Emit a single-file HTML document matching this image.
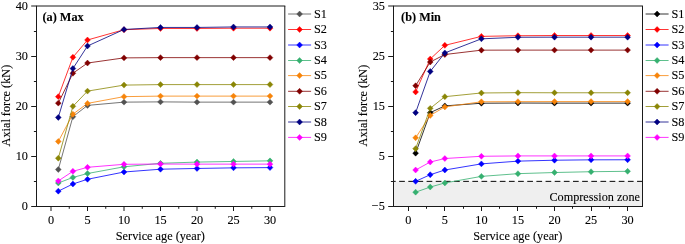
<!DOCTYPE html>
<html><head><meta charset="utf-8"><title>Axial force vs service age</title>
<style>html,body{margin:0;padding:0;background:#fff}svg{display:block;will-change:transform}</style></head><body>
<svg width="685" height="244" viewBox="0 0 685 244">
<rect width="685" height="244" fill="#fff"/>
<polyline fill="none" stroke="#525252" stroke-width="0.8" points="58.30,169.51 72.90,116.68 87.50,105.40 124.00,102.14 160.50,101.89 197.00,102.14 233.50,102.14 270.00,102.14"/>
<path fill="#525252" stroke="#525252" stroke-width="0.45" d="M58.30 166.53l2.9 2.98l-2.9 2.98l-2.9 -2.98zM72.90 113.70l2.9 2.98l-2.9 2.98l-2.9 -2.98zM87.50 102.42l2.9 2.98l-2.9 2.98l-2.9 -2.98zM124.00 99.16l2.9 2.98l-2.9 2.98l-2.9 -2.98zM160.50 98.91l2.9 2.98l-2.9 2.98l-2.9 -2.98zM197.00 99.16l2.9 2.98l-2.9 2.98l-2.9 -2.98zM233.50 99.16l2.9 2.98l-2.9 2.98l-2.9 -2.98zM270.00 99.16l2.9 2.98l-2.9 2.98l-2.9 -2.98z"/>
<polyline fill="none" stroke="#ff0000" stroke-width="0.8" points="58.30,96.63 72.90,57.28 87.50,39.98 124.00,29.71 160.50,28.46 197.00,28.46 233.50,28.21 270.00,28.21"/>
<path fill="#ff0000" stroke="#ff0000" stroke-width="0.45" d="M58.30 93.65l2.9 2.98l-2.9 2.98l-2.9 -2.98zM72.90 54.30l2.9 2.98l-2.9 2.98l-2.9 -2.98zM87.50 37.00l2.9 2.98l-2.9 2.98l-2.9 -2.98zM124.00 26.73l2.9 2.98l-2.9 2.98l-2.9 -2.98zM160.50 25.48l2.9 2.98l-2.9 2.98l-2.9 -2.98zM197.00 25.48l2.9 2.98l-2.9 2.98l-2.9 -2.98zM233.50 25.23l2.9 2.98l-2.9 2.98l-2.9 -2.98zM270.00 25.23l2.9 2.98l-2.9 2.98l-2.9 -2.98z"/>
<polyline fill="none" stroke="#0000ff" stroke-width="0.8" points="58.30,191.16 72.90,183.99 87.50,179.28 124.00,172.01 160.50,169.21 197.00,168.46 233.50,167.85 270.00,167.60"/>
<path fill="#0000ff" stroke="#0000ff" stroke-width="0.45" d="M58.30 188.18l2.9 2.98l-2.9 2.98l-2.9 -2.98zM72.90 181.01l2.9 2.98l-2.9 2.98l-2.9 -2.98zM87.50 176.30l2.9 2.98l-2.9 2.98l-2.9 -2.98zM124.00 169.03l2.9 2.98l-2.9 2.98l-2.9 -2.98zM160.50 166.23l2.9 2.98l-2.9 2.98l-2.9 -2.98zM197.00 165.48l2.9 2.98l-2.9 2.98l-2.9 -2.98zM233.50 164.87l2.9 2.98l-2.9 2.98l-2.9 -2.98zM270.00 164.62l2.9 2.98l-2.9 2.98l-2.9 -2.98z"/>
<polyline fill="none" stroke="#36b070" stroke-width="0.8" points="58.30,182.99 72.90,177.43 87.50,173.52 124.00,166.80 160.50,163.29 197.00,162.09 233.50,161.44 270.00,160.84"/>
<path fill="#36b070" stroke="#36b070" stroke-width="0.45" d="M58.30 180.01l2.9 2.98l-2.9 2.98l-2.9 -2.98zM72.90 174.45l2.9 2.98l-2.9 2.98l-2.9 -2.98zM87.50 170.54l2.9 2.98l-2.9 2.98l-2.9 -2.98zM124.00 163.82l2.9 2.98l-2.9 2.98l-2.9 -2.98zM160.50 160.31l2.9 2.98l-2.9 2.98l-2.9 -2.98zM197.00 159.11l2.9 2.98l-2.9 2.98l-2.9 -2.98zM233.50 158.46l2.9 2.98l-2.9 2.98l-2.9 -2.98zM270.00 157.86l2.9 2.98l-2.9 2.98l-2.9 -2.98z"/>
<polyline fill="none" stroke="#f7840a" stroke-width="0.8" points="58.30,141.44 72.90,114.17 87.50,103.39 124.00,96.63 160.50,96.12 197.00,96.12 233.50,96.12 270.00,96.12"/>
<path fill="#f7840a" stroke="#f7840a" stroke-width="0.45" d="M58.30 138.46l2.9 2.98l-2.9 2.98l-2.9 -2.98zM72.90 111.19l2.9 2.98l-2.9 2.98l-2.9 -2.98zM87.50 100.41l2.9 2.98l-2.9 2.98l-2.9 -2.98zM124.00 93.65l2.9 2.98l-2.9 2.98l-2.9 -2.98zM160.50 93.14l2.9 2.98l-2.9 2.98l-2.9 -2.98zM197.00 93.14l2.9 2.98l-2.9 2.98l-2.9 -2.98zM233.50 93.14l2.9 2.98l-2.9 2.98l-2.9 -2.98zM270.00 93.14l2.9 2.98l-2.9 2.98l-2.9 -2.98z"/>
<polyline fill="none" stroke="#800000" stroke-width="0.8" points="58.30,103.14 72.90,73.27 87.50,63.04 124.00,57.88 160.50,57.63 197.00,57.63 233.50,57.63 270.00,57.63"/>
<path fill="#800000" stroke="#800000" stroke-width="0.45" d="M58.30 100.16l2.9 2.98l-2.9 2.98l-2.9 -2.98zM72.90 70.29l2.9 2.98l-2.9 2.98l-2.9 -2.98zM87.50 60.06l2.9 2.98l-2.9 2.98l-2.9 -2.98zM124.00 54.90l2.9 2.98l-2.9 2.98l-2.9 -2.98zM160.50 54.65l2.9 2.98l-2.9 2.98l-2.9 -2.98zM197.00 54.65l2.9 2.98l-2.9 2.98l-2.9 -2.98zM233.50 54.65l2.9 2.98l-2.9 2.98l-2.9 -2.98zM270.00 54.65l2.9 2.98l-2.9 2.98l-2.9 -2.98z"/>
<polyline fill="none" stroke="#8a8606" stroke-width="0.8" points="58.30,158.23 72.90,106.35 87.50,91.11 124.00,85.10 160.50,84.60 197.00,84.60 233.50,84.60 270.00,84.60"/>
<path fill="#8a8606" stroke="#8a8606" stroke-width="0.45" d="M58.30 155.25l2.9 2.98l-2.9 2.98l-2.9 -2.98zM72.90 103.37l2.9 2.98l-2.9 2.98l-2.9 -2.98zM87.50 88.13l2.9 2.98l-2.9 2.98l-2.9 -2.98zM124.00 82.12l2.9 2.98l-2.9 2.98l-2.9 -2.98zM160.50 81.62l2.9 2.98l-2.9 2.98l-2.9 -2.98zM197.00 81.62l2.9 2.98l-2.9 2.98l-2.9 -2.98zM233.50 81.62l2.9 2.98l-2.9 2.98l-2.9 -2.98zM270.00 81.62l2.9 2.98l-2.9 2.98l-2.9 -2.98z"/>
<polyline fill="none" stroke="#000080" stroke-width="0.8" points="58.30,117.43 72.90,68.56 87.50,46.00 124.00,29.46 160.50,27.45 197.00,27.45 233.50,26.95 270.00,26.95"/>
<path fill="#000080" stroke="#000080" stroke-width="0.45" d="M58.30 114.45l2.9 2.98l-2.9 2.98l-2.9 -2.98zM72.90 65.58l2.9 2.98l-2.9 2.98l-2.9 -2.98zM87.50 43.02l2.9 2.98l-2.9 2.98l-2.9 -2.98zM124.00 26.48l2.9 2.98l-2.9 2.98l-2.9 -2.98zM160.50 24.47l2.9 2.98l-2.9 2.98l-2.9 -2.98zM197.00 24.47l2.9 2.98l-2.9 2.98l-2.9 -2.98zM233.50 23.97l2.9 2.98l-2.9 2.98l-2.9 -2.98zM270.00 23.97l2.9 2.98l-2.9 2.98l-2.9 -2.98z"/>
<polyline fill="none" stroke="#ff00ff" stroke-width="0.8" points="58.30,180.94 72.90,171.31 87.50,167.30 124.00,164.30 160.50,164.04 197.00,164.14 233.50,164.14 270.00,164.14"/>
<path fill="#ff00ff" stroke="#ff00ff" stroke-width="0.45" d="M58.30 177.96l2.9 2.98l-2.9 2.98l-2.9 -2.98zM72.90 168.33l2.9 2.98l-2.9 2.98l-2.9 -2.98zM87.50 164.32l2.9 2.98l-2.9 2.98l-2.9 -2.98zM124.00 161.32l2.9 2.98l-2.9 2.98l-2.9 -2.98zM160.50 161.06l2.9 2.98l-2.9 2.98l-2.9 -2.98zM197.00 161.16l2.9 2.98l-2.9 2.98l-2.9 -2.98zM233.50 161.16l2.9 2.98l-2.9 2.98l-2.9 -2.98zM270.00 161.16l2.9 2.98l-2.9 2.98l-2.9 -2.98z"/>
<path d="M36.00 6.00H285.30" fill="none" stroke="#1a1a1a" stroke-width="1"/>
<path d="M284.80 6.00V207.00" fill="none" stroke="#1a1a1a" stroke-width="1"/>
<path d="M36.50 6.00V206.50M36.00 206.50H284.80" fill="none" stroke="#1a1a1a" stroke-width="1"/>
<line x1="51.00" y1="206.50" x2="51.00" y2="211.00" stroke="#1a1a1a" stroke-width="1"/>
<text x="51.00" y="223.7" text-anchor="middle" font-family="Liberation Serif, serif" stroke="#000" stroke-width="0.1" font-size="12.25px" fill="#000">0</text>
<line x1="87.50" y1="206.50" x2="87.50" y2="211.00" stroke="#1a1a1a" stroke-width="1"/>
<text x="87.50" y="223.7" text-anchor="middle" font-family="Liberation Serif, serif" stroke="#000" stroke-width="0.1" font-size="12.25px" fill="#000">5</text>
<line x1="124.00" y1="206.50" x2="124.00" y2="211.00" stroke="#1a1a1a" stroke-width="1"/>
<text x="124.00" y="223.7" text-anchor="middle" font-family="Liberation Serif, serif" stroke="#000" stroke-width="0.1" font-size="12.25px" fill="#000">10</text>
<line x1="160.50" y1="206.50" x2="160.50" y2="211.00" stroke="#1a1a1a" stroke-width="1"/>
<text x="160.50" y="223.7" text-anchor="middle" font-family="Liberation Serif, serif" stroke="#000" stroke-width="0.1" font-size="12.25px" fill="#000">15</text>
<line x1="197.00" y1="206.50" x2="197.00" y2="211.00" stroke="#1a1a1a" stroke-width="1"/>
<text x="197.00" y="223.7" text-anchor="middle" font-family="Liberation Serif, serif" stroke="#000" stroke-width="0.1" font-size="12.25px" fill="#000">20</text>
<line x1="233.50" y1="206.50" x2="233.50" y2="211.00" stroke="#1a1a1a" stroke-width="1"/>
<text x="233.50" y="223.7" text-anchor="middle" font-family="Liberation Serif, serif" stroke="#000" stroke-width="0.1" font-size="12.25px" fill="#000">25</text>
<line x1="270.00" y1="206.50" x2="270.00" y2="211.00" stroke="#1a1a1a" stroke-width="1"/>
<text x="270.00" y="223.7" text-anchor="middle" font-family="Liberation Serif, serif" stroke="#000" stroke-width="0.1" font-size="12.25px" fill="#000">30</text>
<line x1="69.25" y1="206.50" x2="69.25" y2="208.80" stroke="#1a1a1a" stroke-width="1"/>
<line x1="105.75" y1="206.50" x2="105.75" y2="208.80" stroke="#1a1a1a" stroke-width="1"/>
<line x1="142.25" y1="206.50" x2="142.25" y2="208.80" stroke="#1a1a1a" stroke-width="1"/>
<line x1="178.75" y1="206.50" x2="178.75" y2="208.80" stroke="#1a1a1a" stroke-width="1"/>
<line x1="215.25" y1="206.50" x2="215.25" y2="208.80" stroke="#1a1a1a" stroke-width="1"/>
<line x1="251.75" y1="206.50" x2="251.75" y2="208.80" stroke="#1a1a1a" stroke-width="1"/>
<line x1="31.20" y1="206.50" x2="36.50" y2="206.50" stroke="#1a1a1a" stroke-width="1"/>
<text x="27.90" y="209.60" text-anchor="end" font-family="Liberation Serif, serif" stroke="#000" stroke-width="0.1" font-size="12.25px" fill="#000">0</text>
<line x1="31.20" y1="156.50" x2="36.50" y2="156.50" stroke="#1a1a1a" stroke-width="1"/>
<text x="27.90" y="159.60" text-anchor="end" font-family="Liberation Serif, serif" stroke="#000" stroke-width="0.1" font-size="12.25px" fill="#000">10</text>
<line x1="31.20" y1="106.50" x2="36.50" y2="106.50" stroke="#1a1a1a" stroke-width="1"/>
<text x="27.90" y="109.60" text-anchor="end" font-family="Liberation Serif, serif" stroke="#000" stroke-width="0.1" font-size="12.25px" fill="#000">20</text>
<line x1="31.20" y1="56.50" x2="36.50" y2="56.50" stroke="#1a1a1a" stroke-width="1"/>
<text x="27.90" y="59.60" text-anchor="end" font-family="Liberation Serif, serif" stroke="#000" stroke-width="0.1" font-size="12.25px" fill="#000">30</text>
<line x1="31.20" y1="6.00" x2="36.50" y2="6.00" stroke="#1a1a1a" stroke-width="1"/>
<text x="27.90" y="9.80" text-anchor="end" font-family="Liberation Serif, serif" stroke="#000" stroke-width="0.1" font-size="12.25px" fill="#000">40</text>
<line x1="33.90" y1="181.50" x2="36.50" y2="181.50" stroke="#1a1a1a" stroke-width="1"/>
<line x1="33.90" y1="131.50" x2="36.50" y2="131.50" stroke="#1a1a1a" stroke-width="1"/>
<line x1="33.90" y1="81.50" x2="36.50" y2="81.50" stroke="#1a1a1a" stroke-width="1"/>
<line x1="33.90" y1="31.50" x2="36.50" y2="31.50" stroke="#1a1a1a" stroke-width="1"/>
<text x="42.50" y="21" font-family="Liberation Serif, serif" stroke="#000" stroke-width="0.1" font-size="12.25px" font-weight="bold" stroke-width="0.08" fill="#000">(a) Max</text>
<text x="160.35" y="239.7" text-anchor="middle" font-family="Liberation Serif, serif" stroke="#000" stroke-width="0.1" font-size="12.25px" fill="#000">Service age (year)</text>
<text transform="translate(10.10,105.60) rotate(-90)" text-anchor="middle" font-family="Liberation Serif, serif" stroke="#000" stroke-width="0.1" font-size="12.25px" fill="#000">Axial force (kN)</text>
<line x1="288.10" y1="14.00" x2="311.10" y2="14.00" stroke="#525252" stroke-width="0.8"/>
<path fill="#525252" stroke="#525252" stroke-width="0.45" d="M299.60 11.02l2.9 2.98l-2.9 2.98l-2.9 -2.98z"/>
<text x="313.90" y="17.70" font-family="Liberation Serif, serif" stroke="#000" stroke-width="0.1" font-size="12.25px" fill="#000">S1</text>
<line x1="288.10" y1="29.50" x2="311.10" y2="29.50" stroke="#ff0000" stroke-width="0.8"/>
<path fill="#ff0000" stroke="#ff0000" stroke-width="0.45" d="M299.60 26.52l2.9 2.98l-2.9 2.98l-2.9 -2.98z"/>
<text x="313.90" y="33.20" font-family="Liberation Serif, serif" stroke="#000" stroke-width="0.1" font-size="12.25px" fill="#000">S2</text>
<line x1="288.10" y1="45.00" x2="311.10" y2="45.00" stroke="#0000ff" stroke-width="0.8"/>
<path fill="#0000ff" stroke="#0000ff" stroke-width="0.45" d="M299.60 42.02l2.9 2.98l-2.9 2.98l-2.9 -2.98z"/>
<text x="313.90" y="48.70" font-family="Liberation Serif, serif" stroke="#000" stroke-width="0.1" font-size="12.25px" fill="#000">S3</text>
<line x1="288.10" y1="60.50" x2="311.10" y2="60.50" stroke="#36b070" stroke-width="0.8"/>
<path fill="#36b070" stroke="#36b070" stroke-width="0.45" d="M299.60 57.52l2.9 2.98l-2.9 2.98l-2.9 -2.98z"/>
<text x="313.90" y="64.20" font-family="Liberation Serif, serif" stroke="#000" stroke-width="0.1" font-size="12.25px" fill="#000">S4</text>
<line x1="288.10" y1="75.60" x2="311.10" y2="75.60" stroke="#f7840a" stroke-width="0.8"/>
<path fill="#f7840a" stroke="#f7840a" stroke-width="0.45" d="M299.60 72.62l2.9 2.98l-2.9 2.98l-2.9 -2.98z"/>
<text x="313.90" y="79.30" font-family="Liberation Serif, serif" stroke="#000" stroke-width="0.1" font-size="12.25px" fill="#000">S5</text>
<line x1="288.10" y1="91.30" x2="311.10" y2="91.30" stroke="#800000" stroke-width="0.8"/>
<path fill="#800000" stroke="#800000" stroke-width="0.45" d="M299.60 88.32l2.9 2.98l-2.9 2.98l-2.9 -2.98z"/>
<text x="313.90" y="95.00" font-family="Liberation Serif, serif" stroke="#000" stroke-width="0.1" font-size="12.25px" fill="#000">S6</text>
<line x1="288.10" y1="106.50" x2="311.10" y2="106.50" stroke="#8a8606" stroke-width="0.8"/>
<path fill="#8a8606" stroke="#8a8606" stroke-width="0.45" d="M299.60 103.52l2.9 2.98l-2.9 2.98l-2.9 -2.98z"/>
<text x="313.90" y="110.20" font-family="Liberation Serif, serif" stroke="#000" stroke-width="0.1" font-size="12.25px" fill="#000">S7</text>
<line x1="288.10" y1="122.00" x2="311.10" y2="122.00" stroke="#000080" stroke-width="0.8"/>
<path fill="#000080" stroke="#000080" stroke-width="0.45" d="M299.60 119.02l2.9 2.98l-2.9 2.98l-2.9 -2.98z"/>
<text x="313.90" y="125.70" font-family="Liberation Serif, serif" stroke="#000" stroke-width="0.1" font-size="12.25px" fill="#000">S8</text>
<line x1="288.10" y1="137.40" x2="311.10" y2="137.40" stroke="#ff00ff" stroke-width="0.8"/>
<path fill="#ff00ff" stroke="#ff00ff" stroke-width="0.45" d="M299.60 134.42l2.9 2.98l-2.9 2.98l-2.9 -2.98z"/>
<text x="313.90" y="141.10" font-family="Liberation Serif, serif" stroke="#000" stroke-width="0.1" font-size="12.25px" fill="#000">S9</text>
<rect x="393.50" y="181.35" width="249.00" height="25.15" fill="#efefef"/>
<line x1="393.50" y1="181.35" x2="642.50" y2="181.35" stroke="#000" stroke-width="1" stroke-dasharray="5.7 3.45" stroke-dashoffset="3.5"/>
<text x="640.0" y="200.5" text-anchor="end" font-family="Liberation Serif, serif" stroke="#000" stroke-width="0.1" font-size="12.22px" fill="#000">Compression zone</text>
<polyline fill="none" stroke="#000000" stroke-width="0.8" points="415.61,153.17 430.23,112.67 444.85,105.90 481.40,103.24 517.95,103.04 554.50,103.14 591.05,103.14 627.60,103.14"/>
<path fill="#000000" stroke="#000000" stroke-width="0.45" d="M415.61 150.19l2.9 2.98l-2.9 2.98l-2.9 -2.98zM430.23 109.69l2.9 2.98l-2.9 2.98l-2.9 -2.98zM444.85 102.92l2.9 2.98l-2.9 2.98l-2.9 -2.98zM481.40 100.26l2.9 2.98l-2.9 2.98l-2.9 -2.98zM517.95 100.06l2.9 2.98l-2.9 2.98l-2.9 -2.98zM554.50 100.16l2.9 2.98l-2.9 2.98l-2.9 -2.98zM591.05 100.16l2.9 2.98l-2.9 2.98l-2.9 -2.98zM627.60 100.16l2.9 2.98l-2.9 2.98l-2.9 -2.98z"/>
<polyline fill="none" stroke="#ff0000" stroke-width="0.8" points="415.61,91.96 430.23,59.03 444.85,45.35 481.40,36.38 517.95,35.72 554.50,35.52 591.05,35.52 627.60,35.52"/>
<path fill="#ff0000" stroke="#ff0000" stroke-width="0.45" d="M415.61 88.98l2.9 2.98l-2.9 2.98l-2.9 -2.98zM430.23 56.05l2.9 2.98l-2.9 2.98l-2.9 -2.98zM444.85 42.37l2.9 2.98l-2.9 2.98l-2.9 -2.98zM481.40 33.40l2.9 2.98l-2.9 2.98l-2.9 -2.98zM517.95 32.74l2.9 2.98l-2.9 2.98l-2.9 -2.98zM554.50 32.54l2.9 2.98l-2.9 2.98l-2.9 -2.98zM591.05 32.54l2.9 2.98l-2.9 2.98l-2.9 -2.98zM627.60 32.54l2.9 2.98l-2.9 2.98l-2.9 -2.98z"/>
<polyline fill="none" stroke="#0000ff" stroke-width="0.8" points="415.61,181.34 430.23,174.72 444.85,170.01 481.40,163.89 517.95,161.14 554.50,160.23 591.05,159.83 627.60,159.78"/>
<path fill="#0000ff" stroke="#0000ff" stroke-width="0.45" d="M415.61 178.36l2.9 2.98l-2.9 2.98l-2.9 -2.98zM430.23 171.74l2.9 2.98l-2.9 2.98l-2.9 -2.98zM444.85 167.03l2.9 2.98l-2.9 2.98l-2.9 -2.98zM481.40 160.91l2.9 2.98l-2.9 2.98l-2.9 -2.98zM517.95 158.16l2.9 2.98l-2.9 2.98l-2.9 -2.98zM554.50 157.25l2.9 2.98l-2.9 2.98l-2.9 -2.98zM591.05 156.85l2.9 2.98l-2.9 2.98l-2.9 -2.98zM627.60 156.80l2.9 2.98l-2.9 2.98l-2.9 -2.98z"/>
<polyline fill="none" stroke="#36b070" stroke-width="0.8" points="415.61,192.16 430.23,187.05 444.85,182.94 481.40,176.38 517.95,173.67 554.50,172.52 591.05,171.71 627.60,171.31"/>
<path fill="#36b070" stroke="#36b070" stroke-width="0.45" d="M415.61 189.18l2.9 2.98l-2.9 2.98l-2.9 -2.98zM430.23 184.07l2.9 2.98l-2.9 2.98l-2.9 -2.98zM444.85 179.96l2.9 2.98l-2.9 2.98l-2.9 -2.98zM481.40 173.40l2.9 2.98l-2.9 2.98l-2.9 -2.98zM517.95 170.69l2.9 2.98l-2.9 2.98l-2.9 -2.98zM554.50 169.54l2.9 2.98l-2.9 2.98l-2.9 -2.98zM591.05 168.73l2.9 2.98l-2.9 2.98l-2.9 -2.98zM627.60 168.33l2.9 2.98l-2.9 2.98l-2.9 -2.98z"/>
<polyline fill="none" stroke="#f7840a" stroke-width="0.8" points="415.61,137.83 430.23,115.42 444.85,106.90 481.40,101.79 517.95,101.64 554.50,101.59 591.05,101.59 627.60,101.59"/>
<path fill="#f7840a" stroke="#f7840a" stroke-width="0.45" d="M415.61 134.85l2.9 2.98l-2.9 2.98l-2.9 -2.98zM430.23 112.44l2.9 2.98l-2.9 2.98l-2.9 -2.98zM444.85 103.92l2.9 2.98l-2.9 2.98l-2.9 -2.98zM481.40 98.81l2.9 2.98l-2.9 2.98l-2.9 -2.98zM517.95 98.66l2.9 2.98l-2.9 2.98l-2.9 -2.98zM554.50 98.61l2.9 2.98l-2.9 2.98l-2.9 -2.98zM591.05 98.61l2.9 2.98l-2.9 2.98l-2.9 -2.98zM627.60 98.61l2.9 2.98l-2.9 2.98l-2.9 -2.98z"/>
<polyline fill="none" stroke="#800000" stroke-width="0.8" points="415.61,85.75 430.23,62.04 444.85,54.52 481.40,50.16 517.95,50.11 554.50,50.11 591.05,50.11 627.60,50.11"/>
<path fill="#800000" stroke="#800000" stroke-width="0.45" d="M415.61 82.77l2.9 2.98l-2.9 2.98l-2.9 -2.98zM430.23 59.06l2.9 2.98l-2.9 2.98l-2.9 -2.98zM444.85 51.54l2.9 2.98l-2.9 2.98l-2.9 -2.98zM481.40 47.18l2.9 2.98l-2.9 2.98l-2.9 -2.98zM517.95 47.13l2.9 2.98l-2.9 2.98l-2.9 -2.98zM554.50 47.13l2.9 2.98l-2.9 2.98l-2.9 -2.98zM591.05 47.13l2.9 2.98l-2.9 2.98l-2.9 -2.98zM627.60 47.13l2.9 2.98l-2.9 2.98l-2.9 -2.98z"/>
<polyline fill="none" stroke="#8a8606" stroke-width="0.8" points="415.61,148.66 430.23,108.36 444.85,96.68 481.40,92.97 517.95,92.67 554.50,92.77 591.05,92.77 627.60,92.77"/>
<path fill="#8a8606" stroke="#8a8606" stroke-width="0.45" d="M415.61 145.68l2.9 2.98l-2.9 2.98l-2.9 -2.98zM430.23 105.38l2.9 2.98l-2.9 2.98l-2.9 -2.98zM444.85 93.70l2.9 2.98l-2.9 2.98l-2.9 -2.98zM481.40 89.99l2.9 2.98l-2.9 2.98l-2.9 -2.98zM517.95 89.69l2.9 2.98l-2.9 2.98l-2.9 -2.98zM554.50 89.79l2.9 2.98l-2.9 2.98l-2.9 -2.98zM591.05 89.79l2.9 2.98l-2.9 2.98l-2.9 -2.98zM627.60 89.79l2.9 2.98l-2.9 2.98l-2.9 -2.98z"/>
<polyline fill="none" stroke="#000080" stroke-width="0.8" points="415.61,112.67 430.23,71.46 444.85,52.92 481.40,38.83 517.95,37.28 554.50,37.18 591.05,37.18 627.60,37.18"/>
<path fill="#000080" stroke="#000080" stroke-width="0.45" d="M415.61 109.69l2.9 2.98l-2.9 2.98l-2.9 -2.98zM430.23 68.48l2.9 2.98l-2.9 2.98l-2.9 -2.98zM444.85 49.94l2.9 2.98l-2.9 2.98l-2.9 -2.98zM481.40 35.85l2.9 2.98l-2.9 2.98l-2.9 -2.98zM517.95 34.30l2.9 2.98l-2.9 2.98l-2.9 -2.98zM554.50 34.20l2.9 2.98l-2.9 2.98l-2.9 -2.98zM591.05 34.20l2.9 2.98l-2.9 2.98l-2.9 -2.98zM627.60 34.20l2.9 2.98l-2.9 2.98l-2.9 -2.98z"/>
<polyline fill="none" stroke="#ff00ff" stroke-width="0.8" points="415.61,170.01 430.23,162.04 444.85,158.53 481.40,156.28 517.95,155.92 554.50,155.92 591.05,155.92 627.60,155.92"/>
<path fill="#ff00ff" stroke="#ff00ff" stroke-width="0.45" d="M415.61 167.03l2.9 2.98l-2.9 2.98l-2.9 -2.98zM430.23 159.06l2.9 2.98l-2.9 2.98l-2.9 -2.98zM444.85 155.55l2.9 2.98l-2.9 2.98l-2.9 -2.98zM481.40 153.30l2.9 2.98l-2.9 2.98l-2.9 -2.98zM517.95 152.94l2.9 2.98l-2.9 2.98l-2.9 -2.98zM554.50 152.94l2.9 2.98l-2.9 2.98l-2.9 -2.98zM591.05 152.94l2.9 2.98l-2.9 2.98l-2.9 -2.98zM627.60 152.94l2.9 2.98l-2.9 2.98l-2.9 -2.98z"/>
<path d="M393.00 6.00H643.00" fill="none" stroke="#1a1a1a" stroke-width="1"/>
<path d="M642.50 6.00V207.00" fill="none" stroke="#1a1a1a" stroke-width="1"/>
<path d="M393.50 6.00V206.50M393.00 206.50H642.50" fill="none" stroke="#1a1a1a" stroke-width="1"/>
<line x1="408.50" y1="206.50" x2="408.50" y2="211.00" stroke="#1a1a1a" stroke-width="1"/>
<text x="408.30" y="223.7" text-anchor="middle" font-family="Liberation Serif, serif" stroke="#000" stroke-width="0.1" font-size="12.25px" fill="#000">0</text>
<line x1="444.50" y1="206.50" x2="444.50" y2="211.00" stroke="#1a1a1a" stroke-width="1"/>
<text x="444.85" y="223.7" text-anchor="middle" font-family="Liberation Serif, serif" stroke="#000" stroke-width="0.1" font-size="12.25px" fill="#000">5</text>
<line x1="481.50" y1="206.50" x2="481.50" y2="211.00" stroke="#1a1a1a" stroke-width="1"/>
<text x="481.40" y="223.7" text-anchor="middle" font-family="Liberation Serif, serif" stroke="#000" stroke-width="0.1" font-size="12.25px" fill="#000">10</text>
<line x1="517.50" y1="206.50" x2="517.50" y2="211.00" stroke="#1a1a1a" stroke-width="1"/>
<text x="517.95" y="223.7" text-anchor="middle" font-family="Liberation Serif, serif" stroke="#000" stroke-width="0.1" font-size="12.25px" fill="#000">15</text>
<line x1="554.50" y1="206.50" x2="554.50" y2="211.00" stroke="#1a1a1a" stroke-width="1"/>
<text x="554.50" y="223.7" text-anchor="middle" font-family="Liberation Serif, serif" stroke="#000" stroke-width="0.1" font-size="12.25px" fill="#000">20</text>
<line x1="591.50" y1="206.50" x2="591.50" y2="211.00" stroke="#1a1a1a" stroke-width="1"/>
<text x="591.05" y="223.7" text-anchor="middle" font-family="Liberation Serif, serif" stroke="#000" stroke-width="0.1" font-size="12.25px" fill="#000">25</text>
<line x1="627.50" y1="206.50" x2="627.50" y2="211.00" stroke="#1a1a1a" stroke-width="1"/>
<text x="627.60" y="223.7" text-anchor="middle" font-family="Liberation Serif, serif" stroke="#000" stroke-width="0.1" font-size="12.25px" fill="#000">30</text>
<line x1="426.50" y1="206.50" x2="426.50" y2="208.80" stroke="#1a1a1a" stroke-width="1"/>
<line x1="463.50" y1="206.50" x2="463.50" y2="208.80" stroke="#1a1a1a" stroke-width="1"/>
<line x1="499.50" y1="206.50" x2="499.50" y2="208.80" stroke="#1a1a1a" stroke-width="1"/>
<line x1="536.50" y1="206.50" x2="536.50" y2="208.80" stroke="#1a1a1a" stroke-width="1"/>
<line x1="572.50" y1="206.50" x2="572.50" y2="208.80" stroke="#1a1a1a" stroke-width="1"/>
<line x1="609.50" y1="206.50" x2="609.50" y2="208.80" stroke="#1a1a1a" stroke-width="1"/>
<line x1="388.20" y1="206.50" x2="393.50" y2="206.50" stroke="#1a1a1a" stroke-width="1"/>
<text x="384.90" y="209.60" text-anchor="end" font-family="Liberation Serif, serif" stroke="#000" stroke-width="0.1" font-size="12.25px" fill="#000">−5</text>
<line x1="388.20" y1="156.50" x2="393.50" y2="156.50" stroke="#1a1a1a" stroke-width="1"/>
<text x="384.90" y="159.60" text-anchor="end" font-family="Liberation Serif, serif" stroke="#000" stroke-width="0.1" font-size="12.25px" fill="#000">5</text>
<line x1="388.20" y1="106.50" x2="393.50" y2="106.50" stroke="#1a1a1a" stroke-width="1"/>
<text x="384.90" y="109.60" text-anchor="end" font-family="Liberation Serif, serif" stroke="#000" stroke-width="0.1" font-size="12.25px" fill="#000">15</text>
<line x1="388.20" y1="56.50" x2="393.50" y2="56.50" stroke="#1a1a1a" stroke-width="1"/>
<text x="384.90" y="59.60" text-anchor="end" font-family="Liberation Serif, serif" stroke="#000" stroke-width="0.1" font-size="12.25px" fill="#000">25</text>
<line x1="388.20" y1="6.00" x2="393.50" y2="6.00" stroke="#1a1a1a" stroke-width="1"/>
<text x="384.90" y="9.80" text-anchor="end" font-family="Liberation Serif, serif" stroke="#000" stroke-width="0.1" font-size="12.25px" fill="#000">35</text>
<line x1="390.90" y1="181.50" x2="393.50" y2="181.50" stroke="#1a1a1a" stroke-width="1"/>
<line x1="390.90" y1="131.50" x2="393.50" y2="131.50" stroke="#1a1a1a" stroke-width="1"/>
<line x1="390.90" y1="81.50" x2="393.50" y2="81.50" stroke="#1a1a1a" stroke-width="1"/>
<line x1="390.90" y1="31.50" x2="393.50" y2="31.50" stroke="#1a1a1a" stroke-width="1"/>
<text x="401.10" y="21" font-family="Liberation Serif, serif" stroke="#000" stroke-width="0.1" font-size="12.25px" font-weight="bold" stroke-width="0.08" fill="#000">(b) Min</text>
<text x="517.70" y="239.7" text-anchor="middle" font-family="Liberation Serif, serif" stroke="#000" stroke-width="0.1" font-size="12.25px" fill="#000">Service age (year)</text>
<text transform="translate(366.60,105.60) rotate(-90)" text-anchor="middle" font-family="Liberation Serif, serif" stroke="#000" stroke-width="0.1" font-size="12.25px" fill="#000">Axial force (kN)</text>
<line x1="645.60" y1="14.00" x2="668.60" y2="14.00" stroke="#000000" stroke-width="0.8"/>
<path fill="#000000" stroke="#000000" stroke-width="0.45" d="M657.10 11.02l2.9 2.98l-2.9 2.98l-2.9 -2.98z"/>
<text x="671.40" y="17.70" font-family="Liberation Serif, serif" stroke="#000" stroke-width="0.1" font-size="12.25px" fill="#000">S1</text>
<line x1="645.60" y1="29.50" x2="668.60" y2="29.50" stroke="#ff0000" stroke-width="0.8"/>
<path fill="#ff0000" stroke="#ff0000" stroke-width="0.45" d="M657.10 26.52l2.9 2.98l-2.9 2.98l-2.9 -2.98z"/>
<text x="671.40" y="33.20" font-family="Liberation Serif, serif" stroke="#000" stroke-width="0.1" font-size="12.25px" fill="#000">S2</text>
<line x1="645.60" y1="45.00" x2="668.60" y2="45.00" stroke="#0000ff" stroke-width="0.8"/>
<path fill="#0000ff" stroke="#0000ff" stroke-width="0.45" d="M657.10 42.02l2.9 2.98l-2.9 2.98l-2.9 -2.98z"/>
<text x="671.40" y="48.70" font-family="Liberation Serif, serif" stroke="#000" stroke-width="0.1" font-size="12.25px" fill="#000">S3</text>
<line x1="645.60" y1="60.50" x2="668.60" y2="60.50" stroke="#36b070" stroke-width="0.8"/>
<path fill="#36b070" stroke="#36b070" stroke-width="0.45" d="M657.10 57.52l2.9 2.98l-2.9 2.98l-2.9 -2.98z"/>
<text x="671.40" y="64.20" font-family="Liberation Serif, serif" stroke="#000" stroke-width="0.1" font-size="12.25px" fill="#000">S4</text>
<line x1="645.60" y1="75.60" x2="668.60" y2="75.60" stroke="#f7840a" stroke-width="0.8"/>
<path fill="#f7840a" stroke="#f7840a" stroke-width="0.45" d="M657.10 72.62l2.9 2.98l-2.9 2.98l-2.9 -2.98z"/>
<text x="671.40" y="79.30" font-family="Liberation Serif, serif" stroke="#000" stroke-width="0.1" font-size="12.25px" fill="#000">S5</text>
<line x1="645.60" y1="91.30" x2="668.60" y2="91.30" stroke="#800000" stroke-width="0.8"/>
<path fill="#800000" stroke="#800000" stroke-width="0.45" d="M657.10 88.32l2.9 2.98l-2.9 2.98l-2.9 -2.98z"/>
<text x="671.40" y="95.00" font-family="Liberation Serif, serif" stroke="#000" stroke-width="0.1" font-size="12.25px" fill="#000">S6</text>
<line x1="645.60" y1="106.50" x2="668.60" y2="106.50" stroke="#8a8606" stroke-width="0.8"/>
<path fill="#8a8606" stroke="#8a8606" stroke-width="0.45" d="M657.10 103.52l2.9 2.98l-2.9 2.98l-2.9 -2.98z"/>
<text x="671.40" y="110.20" font-family="Liberation Serif, serif" stroke="#000" stroke-width="0.1" font-size="12.25px" fill="#000">S7</text>
<line x1="645.60" y1="122.00" x2="668.60" y2="122.00" stroke="#000080" stroke-width="0.8"/>
<path fill="#000080" stroke="#000080" stroke-width="0.45" d="M657.10 119.02l2.9 2.98l-2.9 2.98l-2.9 -2.98z"/>
<text x="671.40" y="125.70" font-family="Liberation Serif, serif" stroke="#000" stroke-width="0.1" font-size="12.25px" fill="#000">S8</text>
<line x1="645.60" y1="137.40" x2="668.60" y2="137.40" stroke="#ff00ff" stroke-width="0.8"/>
<path fill="#ff00ff" stroke="#ff00ff" stroke-width="0.45" d="M657.10 134.42l2.9 2.98l-2.9 2.98l-2.9 -2.98z"/>
<text x="671.40" y="141.10" font-family="Liberation Serif, serif" stroke="#000" stroke-width="0.1" font-size="12.25px" fill="#000">S9</text>
</svg></body></html>
